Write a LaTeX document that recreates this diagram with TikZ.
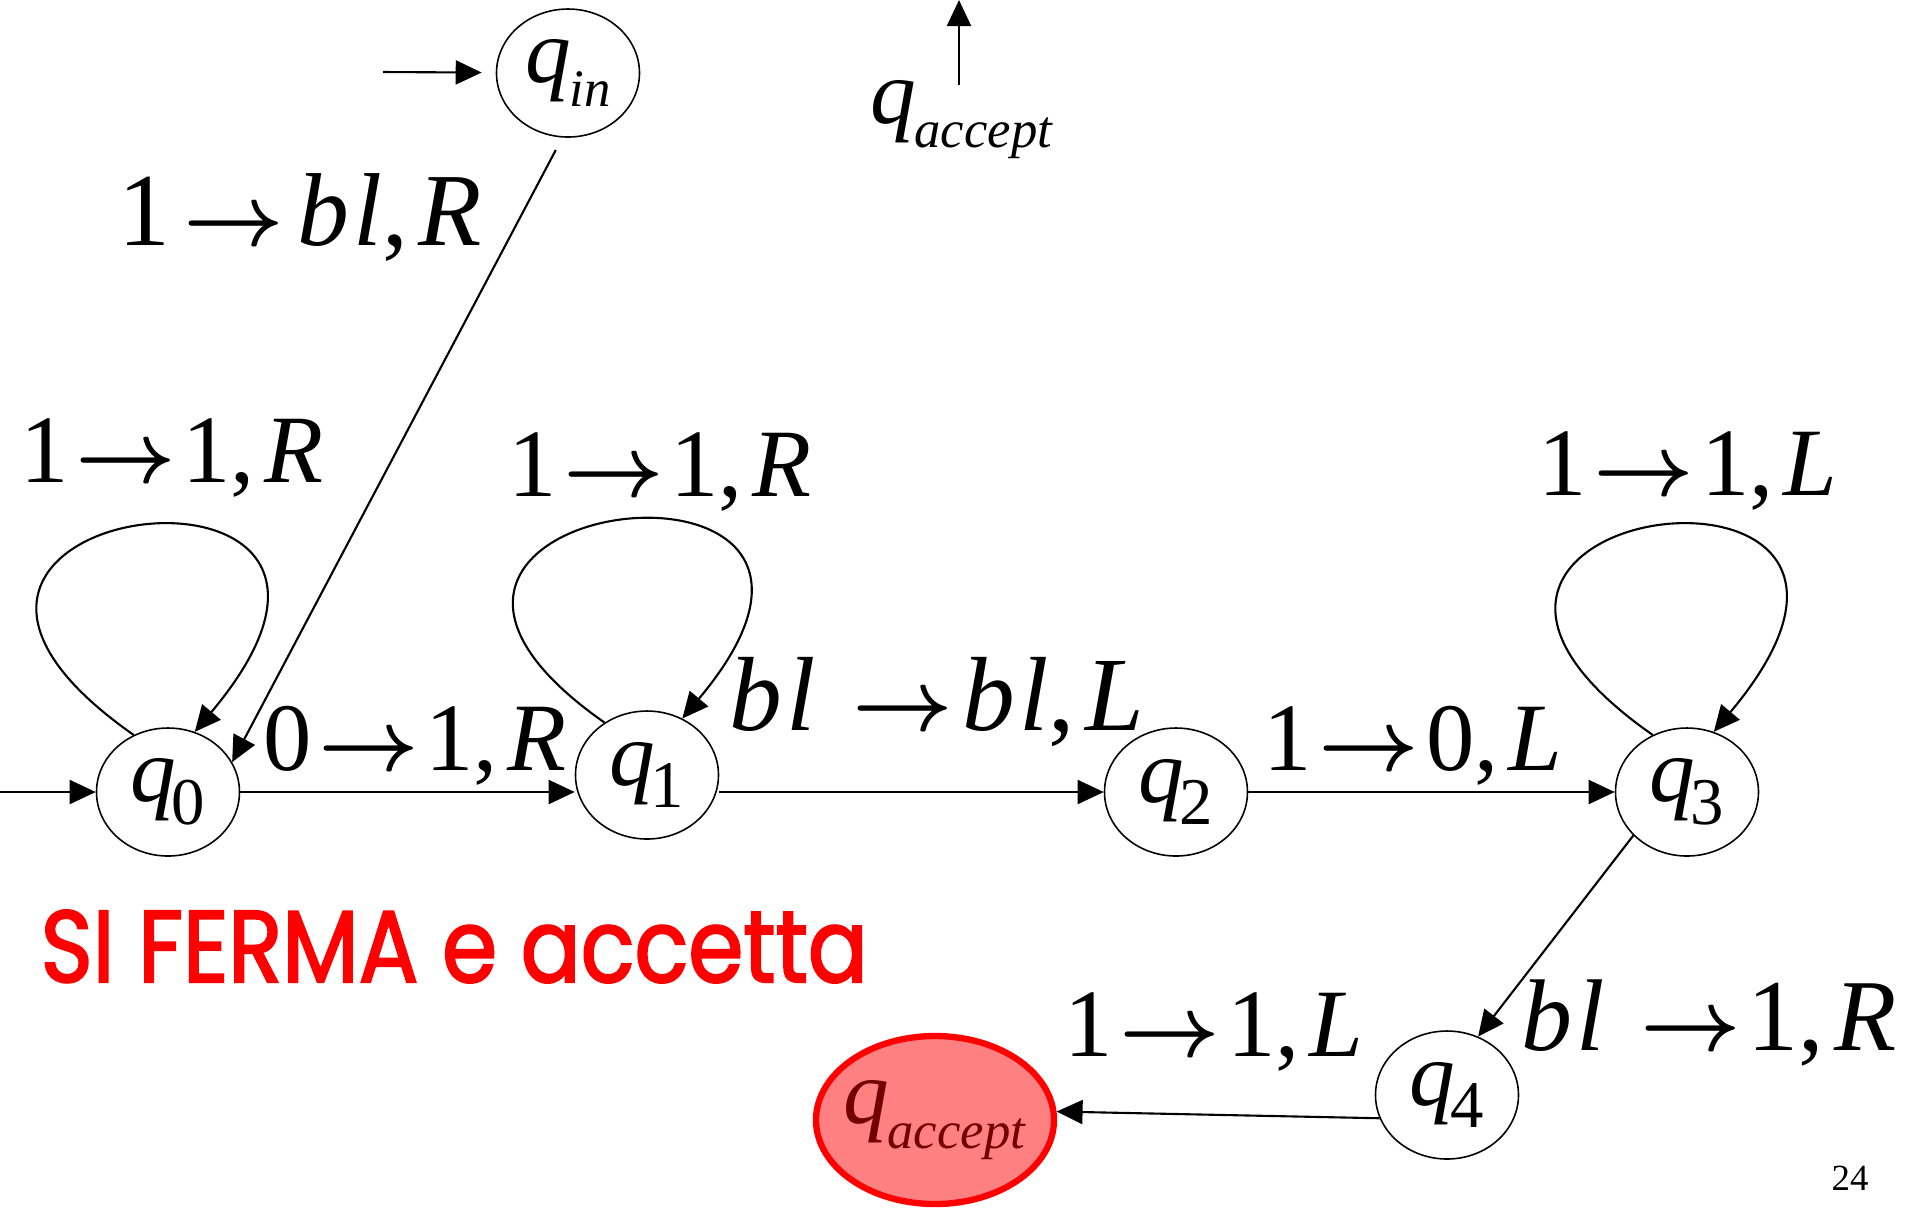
\documentclass[tikz,border=0pt]{standalone}
\usepackage{bm}
\usepackage{fontspec}
\setmainfont{Liberation Serif}
\newfontfamily\comicfont[FakeStretch=0.87,FakeBold=2]{Poppins}
\usetikzlibrary{arrows.meta,shapes.geometric}

\newcommand{\tto}{\hspace{0.07em}$\bm{\rightarrow}$\hspace{0.07em}}
\newcommand{\cm}{,\hspace{0.1em}}
\newcommand{\bl}{\textit{b\kern0.04em l}}
\newcommand{\qsub}[1]{\textit{q}\kern-0.05em\raisebox{-0.25em}{\fontsize{19}{19}\selectfont #1}}
\newcommand{\qtext}[1]{\textit{q}\kern-0.02em\raisebox{-0.27em}{\fontsize{15}{15}\selectfont\textit{#1}}}

\begin{document}
\begin{tikzpicture}[
    state/.style={draw, ellipse, line width=0.45pt, minimum width=1.43cm, minimum height=1.28cm, inner sep=0pt, font=\fontsize{26}{28}\selectfont},
    lbl/.style={anchor=base, inner sep=0pt, font=\fontsize{27.5}{30}\selectfont},
    edge/.style={line width=0.6pt, -{Triangle[length=0.26cm,width=0.24cm]}},
    selfloop/.style={edge, out=145, in=50, distance=4.1cm},
]
    \useasboundingbox (0,0) rectangle (19.07,-12.08);
    % states
    \node[state] (qin) at (5.68,-0.73) {\qtext{in}};
    \node[state] (q0) at (1.68,-7.92) {\qsub{0}};
    \node[state] (q1) at (6.47,-7.75) {\qsub{1}};
    \node[state] (q2) at (11.76,-7.92) {\qsub{2}};
    \node[state] (q3) at (16.87,-7.92) {\qsub{3}};
    \node[state] (q4) at (14.47,-10.95) {\qsub{4}};
    \node[state, draw=red, fill=red!50, line width=1.8pt, text=red!45!black, minimum width=2.38cm, minimum height=1.68cm, inner xsep=-1.5mm] (qacc) at (9.35,-11.20) {\qtext{accept}};
    \node[anchor=base west, inner sep=0pt, font=\fontsize{26}{28}\selectfont] (qtop) at (8.70,-1.23) {\qtext{accept}};
    \coordinate (start0) at (0,-7.92);
    \coordinate (startin) at (3.83,-0.72);
    \coordinate (toptip) at (9.59,0);
    % transitions
    \draw[edge] (start0) -- (q0);
    \draw[edge, shorten >=0.14cm] (startin) -- (qin);
    \draw[edge, shorten <=-0.6mm] (qtop.north -| toptip) -- (toptip);
    \draw[edge, shorten <=0.14cm] (qin.265) -- (q0.25);
    \draw[edge] (q0.east) -- (q1.west |- q0.east);
    \draw[edge] (q1.east |- q2.west) -- (q2.west);
    \draw[edge] (q2) -- (q3);
    \draw[edge] (q3.219) -- (q4.62);
    \draw[edge] (q4.199) -- (qacc.4);
    \draw[selfloop] (q0.121) to (q0.66);
    \draw[selfloop, distance=3.95cm] (q1.129) to (q1.58);
    \draw[selfloop] (q3.121) to (q3.66);
    % labels
    \node[lbl, font=\fontsize{29.5}{31}\selectfont] (lin) at (3.00,-2.45) {1\hspace{0.06em}\tto\hspace{0.06em}\bl\cm\textit{R}};
    \node[lbl] (l00) at (1.72,-4.82) {1\tto 1\cm\textit{R}};
    \node[lbl] (l11) at (6.60,-4.96) {1\tto 1\cm\textit{R}};
    \node[lbl] (l33) at (16.88,-4.95) {1\tto 1\cm\textit{L}};
    \node[lbl] (l01) at (4.15,-7.70) {0\tto 1\cm\textit{R}};
    \node[lbl, font=\fontsize{30}{32}\selectfont] (l12) at (9.37,-7.30) {\bl\hspace{0.28em}\tto\hspace{0.02em}\bl\cm\textit{L}};
    \node[lbl] (l23) at (14.13,-7.70) {1\tto 0\cm\textit{L}};
    \node[lbl, font=\fontsize{29}{31}\selectfont] (l34) at (17.09,-10.50) {\bl\hspace{0.28em}\tto 1\cm\textit{R}};
    \node[lbl] (l4a) at (12.14,-10.56) {1\tto 1\cm\textit{L}};
    \node[anchor=base west, inner sep=0pt, text=red, font=\comicfont\fontsize{29}{32}\selectfont] (halt) at (0.40,-9.82) {SI FERMA e accetta};
    \node[anchor=base, inner sep=0pt, font=\fontsize{10.5}{12}\selectfont] (page) at (18.50,-11.90) {24};
\end{tikzpicture}
\end{document}
